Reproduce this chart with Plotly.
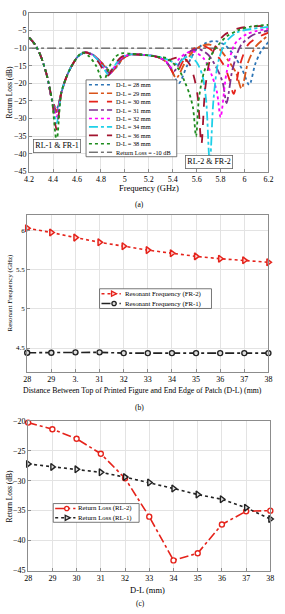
import plotly.graph_objects as go

W, H = 285, 614
FONT = "Liberation Serif"

# ---------------- Panel (a): return loss vs frequency ----------------
f28 = [4.20, 4.25, 4.30, 4.35, 4.39, 4.43, 4.47, 4.52, 4.56, 4.61, 4.67, 4.73, 4.79, 4.84, 4.89, 4.94, 4.99, 5.05, 5.15, 5.25,
       5.32, 5.38, 5.45, 5.52, 5.60, 5.68, 5.76, 5.84, 5.92, 5.98, 6.04, 6.09, 6.14, 6.20]
r28 = [-7.0, -9.0, -12.5, -18.0, -24.5, -27.2, -22.5, -17.5, -14.8, -12.3, -11.2, -11.8, -13.5, -15.3, -16.5, -15.0, -12.8, -11.8, -11.9, -12.3,
       -13.2, -15.5, -20.0, -15.0, -10.3, -8.5, -8.0, -9.2, -12.5, -16.0, -20.4, -14.5, -10.8, -8.3]

f29 = [4.20, 4.25, 4.30, 4.35, 4.39, 4.43, 4.47, 4.52, 4.56, 4.61, 4.67, 4.73, 4.79, 4.84, 4.885, 4.935, 4.99, 5.05, 5.15, 5.25,
       5.32, 5.37, 5.43, 5.50, 5.58, 5.65, 5.71, 5.79, 5.87, 5.93, 5.975, 6.03, 6.10, 6.20]
r29 = [-7.0, -9.0, -12.5, -18.0, -24.5, -27.7, -22.5, -17.5, -14.8, -12.3, -11.2, -11.8, -13.6, -15.5, -16.8, -15.0, -12.8, -11.8, -11.9, -12.3,
       -13.2, -15.0, -18.5, -14.3, -10.6, -9.3, -9.0, -10.3, -13.8, -17.0, -21.5, -14.0, -9.3, -6.4]

f30 = [4.20, 4.25, 4.30, 4.35, 4.39, 4.43, 4.47, 4.52, 4.56, 4.61, 4.67, 4.73, 4.79, 4.84, 4.88, 4.93, 4.99, 5.05, 5.15, 5.25,
       5.31, 5.36, 5.42, 5.49, 5.57, 5.66, 5.74, 5.83, 5.87, 5.91, 5.96, 6.03, 6.12, 6.20]
r30 = [-7.0, -9.0, -12.5, -18.0, -24.5, -28.1, -22.5, -17.5, -14.8, -12.3, -11.2, -11.8, -13.7, -15.7, -17.0, -15.0, -12.7, -11.8, -11.9, -12.3,
       -13.0, -14.5, -17.5, -13.5, -10.3, -9.5, -11.0, -15.0, -18.5, -23.0, -15.0, -9.0, -6.8, -5.6]

f31 = [4.20, 4.25, 4.30, 4.35, 4.39, 4.43, 4.47, 4.52, 4.56, 4.61, 4.67, 4.73, 4.79, 4.835, 4.875, 4.925, 4.98, 5.05, 5.15, 5.25,
       5.30, 5.35, 5.41, 5.48, 5.55, 5.62, 5.70, 5.78, 5.82, 5.85, 5.90, 5.97, 6.07, 6.20]
r31 = [-7.0, -9.0, -12.5, -18.0, -24.5, -28.6, -22.5, -17.5, -14.8, -12.3, -11.2, -11.9, -13.8, -15.8, -17.2, -15.0, -12.7, -11.8, -11.9, -12.3,
       -12.9, -14.0, -16.5, -13.0, -10.8, -10.3, -12.0, -16.5, -20.0, -25.6, -16.0, -9.2, -6.3, -5.0]

f32 = [4.20, 4.25, 4.30, 4.35, 4.39, 4.43, 4.47, 4.52, 4.56, 4.61, 4.67, 4.73, 4.79, 4.83, 4.87, 4.92, 4.98, 5.05, 5.15, 5.25,
       5.29, 5.34, 5.39, 5.46, 5.52, 5.58, 5.66, 5.73, 5.77, 5.80, 5.85, 5.92, 6.02, 6.20]
r32 = [-7.0, -9.0, -12.5, -18.0, -24.5, -29.4, -22.5, -17.5, -14.8, -12.3, -11.2, -11.9, -13.9, -16.0, -17.4, -15.0, -12.6, -11.8, -11.9, -12.3,
       -12.8, -13.6, -15.5, -12.8, -11.3, -11.0, -13.0, -18.0, -22.5, -29.6, -17.0, -8.8, -6.0, -4.5]

f34 = [4.20, 4.25, 4.30, 4.35, 4.39, 4.43, 4.47, 4.52, 4.56, 4.61, 4.67, 4.73, 4.79, 4.83, 4.865, 4.915, 4.97, 5.05, 5.15, 5.25,
       5.32, 5.38, 5.44, 5.49, 5.54, 5.60, 5.65, 5.68, 5.71, 5.74, 5.78, 5.84, 5.94, 6.20]
r34 = [-7.0, -9.0, -12.5, -18.0, -24.5, -31.3, -22.5, -17.5, -14.8, -12.3, -11.2, -11.9, -14.0, -16.1, -17.6, -15.0, -12.6, -11.8, -11.9, -12.3,
       -12.8, -13.6, -14.6, -13.0, -12.3, -14.0, -18.0, -25.0, -43.0, -25.0, -14.0, -8.5, -5.5, -4.0]

f36 = [4.20, 4.25, 4.30, 4.35, 4.39, 4.43, 4.47, 4.52, 4.56, 4.61, 4.67, 4.72, 4.78, 4.82, 4.86, 4.91, 4.97, 5.05, 5.15, 5.24,
       5.30, 5.35, 5.41, 5.48, 5.54, 5.58, 5.61, 5.64, 5.67, 5.71, 5.76, 5.83, 5.95, 6.20]
r36 = [-7.0, -9.0, -12.5, -18.0, -24.5, -33.1, -22.5, -17.5, -14.8, -12.3, -11.2, -11.9, -14.0, -16.2, -17.8, -15.0, -12.5, -11.8, -11.9, -12.3,
       -12.8, -13.5, -12.9, -12.5, -14.5, -18.5, -24.0, -37.3, -22.0, -13.5, -9.5, -6.3, -4.4, -3.6]

f38 = [4.20, 4.25, 4.30, 4.35, 4.39, 4.43, 4.47, 4.52, 4.56, 4.61, 4.64, 4.70, 4.76, 4.82, 4.87, 4.92, 4.97, 5.05, 5.15, 5.25,
       5.31, 5.36, 5.45, 5.50, 5.54, 5.57, 5.595, 5.62, 5.66, 5.71, 5.76, 5.85, 5.95, 6.05, 6.20]
r38 = [-7.0, -9.0, -12.5, -18.0, -24.5, -36.4, -22.5, -17.5, -14.8, -12.3, -11.2, -12.3, -15.0, -19.5, -15.3, -12.5, -11.5, -11.6, -11.9, -12.3,
       -12.6, -13.0, -16.0, -19.5, -23.0, -27.0, -35.0, -24.0, -17.0, -12.8, -10.0, -6.7, -4.9, -3.9, -3.4]

f_ref = [4.2, 6.2]
r_ref = [-10, -10]

labels_a = ["D-L = 28 mm", "D-L = 29 mm", "D-L = 30 mm", "D-L = 31 mm", "D-L = 32 mm",
            "D-L = 34 mm", "D-L = 36 mm", "D-L = 38 mm", "Return Loss = -10 dB"]
xticks_a = [4.2, 4.4, 4.6, 4.8, 5.0, 5.2, 5.4, 5.6, 5.8, 6.0, 6.2]
xticktext_a = ["4.2", "4.4", "4.6", "4.8", "5", "5.2", "5.4", "5.6", "5.8", "6", "6.2"]

# ---------------- Panel (b): resonant frequency vs D-L ----------------
dl = [28, 29, 30, 31, 32, 33, 34, 35, 36, 37, 38]
dl_ticktext = ["28", "29", "3.", "31", "32", "33", "34", "35", "36", "37", "38"]
fr2 = [6.03, 5.975, 5.91, 5.85, 5.80, 5.75, 5.71, 5.67, 5.64, 5.62, 5.595]
fr1 = [4.44, 4.44, 4.445, 4.445, 4.435, 4.435, 4.435, 4.435, 4.435, 4.435, 4.435]
labels_b = ["Resonant Frequency (FR-2)", "Resonant Frequency (FR-1)"]

# ---------------- Panel (c): return loss vs D-L ----------------
rl2 = [-20.3, -21.4, -23.0, -25.5, -29.6, -36.0, -43.3, -42.1, -37.3, -35.1, -35.0]
rl1 = [-27.2, -27.7, -28.1, -28.6, -29.4, -30.3, -31.3, -32.3, -33.1, -34.5, -36.4]
labels_c = ["Return Loss (RL-2)", "Return Loss (RL-1)"]

# ---------------- helpers ----------------
def px(x):
    return x / W


def py(y):
    return 1 - y / H


fig = go.Figure()

styles_a = [
    ("#2E75B6", "dot"),
    ("#D95319", "dashdot"),
    ("#E5231B", "dash"),
    ("#7E2F8E", "dashdot"),
    ("#FF00FF", "dot"),
    ("#1FD0E8", "dashdot"),
    ("#A2142F", "dash"),
    ("#1E8C1E", "dot"),
]
curves = [(f28, r28), (f29, r29), (f30, r30), (f31, r31), (f32, r32), (f34, r34), (f36, r36), (f38, r38)]

fig.add_trace(go.Scatter(x=f_ref, y=r_ref, mode="lines", showlegend=False,
                         line=dict(color="#333333", dash="dashdot", width=1), xaxis="x", yaxis="y"))
for (fx, ry), (col, dsh), lab in zip(curves, styles_a, labels_a):
    fig.add_trace(go.Scatter(x=fx, y=ry, mode="lines", name=lab, showlegend=False,
                             line=dict(color=col, dash=dsh, width=1.8, shape="spline", smoothing=0.8),
                             xaxis="x", yaxis="y"))

# panel b traces
fig.add_trace(go.Scatter(x=dl, y=fr2, mode="lines+markers", name=labels_b[0], showlegend=False, cliponaxis=False,
                         line=dict(color="#E5231B", dash="dot", width=1.6),
                         marker=dict(symbol="triangle-right", size=6, color="#FFD0D0", line=dict(color="#E5231B", width=1.5)),
                         xaxis="x2", yaxis="y2"))
fig.add_trace(go.Scatter(x=dl, y=fr1, mode="lines+markers", name=labels_b[1], showlegend=False, cliponaxis=False,
                         line=dict(color="#222222", dash="dashdot", width=1.6),
                         marker=dict(symbol="circle", size=5, color="#DDDDDD", line=dict(color="#222222", width=1.4)),
                         xaxis="x2", yaxis="y2"))

# panel c traces
fig.add_trace(go.Scatter(x=dl, y=rl2, mode="lines+markers", name=labels_c[0], showlegend=False, cliponaxis=False,
                         line=dict(color="#E5231B", dash="dashdot", width=1.6),
                         marker=dict(symbol="circle", size=5, color="white", line=dict(color="#E5231B", width=1.4)),
                         xaxis="x3", yaxis="y3"))
fig.add_trace(go.Scatter(x=dl, y=rl1, mode="lines+markers", name=labels_c[1], showlegend=False, cliponaxis=False,
                         line=dict(color="#222222", dash="dot", width=1.6),
                         marker=dict(symbol="triangle-right", size=6, color="#DDDDDD", line=dict(color="#222222", width=1.4)),
                         xaxis="x3", yaxis="y3"))

axis_common = dict(showline=True, linecolor="#8C8C8C", linewidth=1, mirror=True, showgrid=True,
                   gridcolor="#E3E3E3", gridwidth=1, zeroline=False, ticks="inside", ticklen=3,
                   tickcolor="#8C8C8C", tickfont=dict(family=FONT, size=8, color="black"))

fig.update_layout(
    width=W, height=H, margin=dict(l=0, r=0, t=0, b=0),
    paper_bgcolor="white", plot_bgcolor="white", showlegend=False,
    font=dict(family=FONT, color="black"),
    xaxis=dict(domain=[px(25), px(273)], range=[4.2, 6.2], tickvals=xticks_a, ticktext=xticktext_a,
               anchor="y", **axis_common),
    yaxis=dict(domain=[py(170), py(9)], range=[-45, 0], dtick=5, anchor="x", **axis_common),
    xaxis2=dict(domain=[px(23), px(273)], range=[28, 38], tickvals=dl, ticktext=dl_ticktext,
                anchor="y2", **axis_common),
    yaxis2=dict(domain=[py(373), py(214)], range=[4.2, 6.2], tickvals=[4.5, 5, 5.5, 6],
                ticktext=["4.5", "5", "5.5", "6"], anchor="x2", **axis_common),
    xaxis3=dict(domain=[px(24), px(275)], range=[28, 38], dtick=1, anchor="y3", **axis_common),
    yaxis3=dict(domain=[py(575), py(423)], range=[-45, -20], dtick=5, anchor="x3", **axis_common),
)
fig.update_yaxes(tickfont=dict(size=7), selector=dict(anchor="x2"))

shapes = []
annotations = []


def text(x, y, s, size=8, xanchor="center", angle=0, **kw):
    annotations.append(dict(x=px(x), y=py(y), xref="paper", yref="paper", text=s, showarrow=False,
                            xanchor=xanchor, yanchor="middle", textangle=angle,
                            font=dict(family=FONT, size=size, color="black"), **kw))


def box(x0, y0, x1, y1):
    shapes.append(dict(type="rect", xref="paper", yref="paper", x0=px(x0), x1=px(x1), y0=py(y1), y1=py(y0),
                       line=dict(color="#555555", width=0.8), fillcolor="white", layer="above"))


def keyline(x0, x1, y, color, dash, width=1.5):
    shapes.append(dict(type="line", xref="paper", yref="paper", x0=px(x0), x1=px(x1), y0=py(y), y1=py(y),
                       line=dict(color=color, dash=dash, width=width), layer="above"))


def keycircle(cx, cy, r, color, fill):
    shapes.append(dict(type="circle", xref="paper", yref="paper", x0=px(cx - r), x1=px(cx + r),
                       y0=py(cy + r), y1=py(cy - r), line=dict(color=color, width=1.3), fillcolor=fill, layer="above"))


def keytri(cx, cy, r, color, fill):
    p = "M {:.5f},{:.5f} L {:.5f},{:.5f} L {:.5f},{:.5f} Z".format(
        px(cx - r), py(cy - r), px(cx + r), py(cy), px(cx - r), py(cy + r))
    shapes.append(dict(type="path", xref="paper", yref="paper", path=p,
                       line=dict(color=color, width=1.3), fillcolor=fill, layer="above"))


# panel (a) legend
box(84, 77, 178, 155)
row_h = 8.55
keys_a = styles_a + [("#333333", "dashdot")]
for i, (lab, (col, dsh)) in enumerate(zip(labels_a, keys_a)):
    yy = 82 + i * row_h
    keyline(87, 111, yy, col, dsh, 1.6 if i < 8 else 1)
    text(113, yy, lab, size=6.3, xanchor="left")

# panel (a) boxed notes
text(54, 144.5, "RL-1 & FR-1", size=8, bordercolor="#666666", borderwidth=0.8, borderpad=1.5, bgcolor="white")
text(211.5, 160.5, "RL-2 & FR-2", size=8, bordercolor="#666666", borderwidth=0.8, borderpad=1.5, bgcolor="white")

# panel (b) legend
box(98, 289, 214, 309)
keyline(100, 120, 294, "#E5231B", "dot")
keytri(113, 294, 2.6, "#E5231B", "#FFD0D0")
text(122, 294, labels_b[0], size=6.8, xanchor="left")
keyline(100, 120, 304, "#222222", "dashdot")
keycircle(113, 304, 2.2, "#222222", "#DDDDDD")
text(122, 304, labels_b[1], size=6.8, xanchor="left")

# panel (c) legend
box(50, 507, 139, 526)
keyline(52, 73, 512, "#E5231B", "dashdot")
keycircle(64, 512, 2.2, "#E5231B", "white")
text(74, 512, labels_c[0], size=6.8, xanchor="left")
keyline(52, 73, 521.5, "#222222", "dot")
keytri(65, 521.5, 2.6, "#222222", "#DDDDDD")
text(74, 521.5, labels_c[1], size=6.8, xanchor="left")

# axis titles and panel labels
text(149, 187, "Frequency (GHz)", size=8.5)
text(139, 203, "(a)", size=7.5)
text(5, 89, "Return Loss (dB)", size=7.5, angle=-90)

text(142, 392, "Distance Between Top of Printed Figure and End Edge of Patch (D-L) (mm)", size=7.8)
text(139, 409, "(b)", size=7.5)
text(5, 293, "Resonant Frequency (GHz)", size=7, angle=-90)

text(148, 595, "D-L (mm)", size=8.5)
text(140, 608, "(c)", size=7.5)
text(5, 499, "Return Loss (dB)", size=7.5, angle=-90)

fig.update_layout(shapes=shapes, annotations=annotations)
fig.write_html("out.html")
